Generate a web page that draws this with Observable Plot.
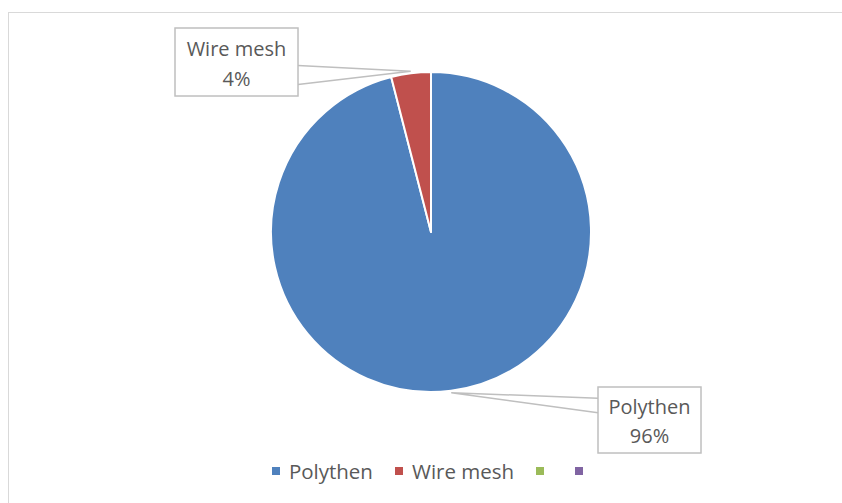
<!DOCTYPE html>
<html>
<head>
<meta charset="utf-8">
<script src="https://cdn.jsdelivr.net/npm/d3@7"></script>
<script src="https://cdn.jsdelivr.net/npm/@observablehq/plot@0.6"></script>
<style>
  html, body { margin: 0; padding: 0; background: #fff; overflow: hidden; }
  #wrap { position: relative; width: 842px; height: 503px; font-family: "Open Sans", sans-serif; }
  #border { position: absolute; left: 8px; top: 12px; width: 850px; height: 520px;
            border-top: 1.5px solid #d9d9d9; border-left: 1.5px solid #d9d9d9; box-sizing: border-box; }
  #chart { position: absolute; left: 0; top: 0; }
  #legend { position: absolute; left: 8px; top: 457px; width: 848px; display: flex; justify-content: center;
            align-items: center; font-size: 20.5px; color: #595959; }
  .item { display: flex; align-items: center; margin: 0 11px; }
  .sw { width: 8px; height: 8px; margin-right: 9px; }
</style>
</head>
<body>
<div id="wrap">
  <div id="border"></div>
  <div id="chart"></div>
  <div id="legend"></div>
</div>
<script>
// ---- data ----
const categories = ["Polythen", "Wire mesh"];
const values = [96, 4];
const labels = ["96%", "4%"];
const legendNames = ["Polythen", "Wire mesh", "", ""];
const colors = ["#4f81bd", "#c0504d", "#9bbb59", "#8064a2"];

// ---- layout (pixels) ----
const W = 842, H = 503;
const cx = 431, cy = 232, R = 160;
// callout boxes: [left, top, right, bottom]
const boxes = {
  "Polythen": [598, 387, 701, 453],
  "Wire mesh": [175, 28, 298, 96]
};

const rows = categories.map((c, i) => ({category: c, value: values[i], label: labels[i], color: colors[i]}));
const arcs = d3.pie().sort(null).value(d => d.value)(rows);

function pieMark(index, scales, vals, dims) {
  const x0 = scales.x(0), y0 = scales.y(0), r = scales.x(1) - scales.x(0);
  const arcGen = d3.arc().innerRadius(0).outerRadius(r);
  const g = d3.create("svg:g").attr("transform", `translate(${x0},${y0})`);
  g.selectAll("path").data(arcs).join("path")
    .attr("d", arcGen)
    .attr("fill", d => d.data.color)
    .attr("stroke", "#fff")
    .attr("stroke-width", 2)
    .attr("stroke-linejoin", "round");
  return g.node();
}

function calloutMark(index, scales) {
  const x0 = scales.x(0), y0 = scales.y(0), r = scales.x(1) - scales.x(0);
  const g = d3.create("svg:g");
  for (const a of arcs) {
    const mid = (a.startAngle + a.endAngle) / 2;
    const tx = x0 + Math.sin(mid) * (r + 2), ty = y0 - Math.cos(mid) * (r + 2);
    const [l, t, rt, b] = boxes[a.data.category];
    const onLeft = tx > rt;
    const bx = onLeft ? rt : l;
    const h = b - t;
    const p1 = onLeft ? [bx, t + h * 0.55] : [bx, t + h * 0.17];
    const p2 = onLeft ? [bx, t + h * 0.83] : [bx, t + h * 0.39];
    g.append("path")
      .attr("d", `M${p1[0]},${p1[1]}L${tx},${ty}L${p2[0]},${p2[1]}`)
      .attr("fill", "#fff").attr("stroke", "#bfbfbf").attr("stroke-width", 1.5);
    g.append("rect").attr("x", l).attr("y", t).attr("width", rt - l).attr("height", h)
      .attr("fill", "#fff").attr("stroke", "#bfbfbf").attr("stroke-width", 1.5);
    const mx = (l + rt) / 2;
    g.append("text").attr("x", mx).attr("y", t + h * 0.41).attr("text-anchor", "middle")
      .attr("font-family", "Open Sans, sans-serif").attr("font-size", 20).attr("fill", "#595959")
      .text(a.data.category);
    g.append("text").attr("x", mx).attr("y", t + h * 0.85).attr("text-anchor", "middle")
      .attr("font-family", "Open Sans, sans-serif").attr("font-size", 20).attr("fill", "#595959")
      .text(a.data.label);
  }
  return g.node();
}

const chart = Plot.plot({
  width: W,
  height: H,
  margin: 0,
  x: {domain: [-cx / R, (W - cx) / R], axis: null},
  y: {domain: [(cy - H) / R, cy / R], axis: null},
  marks: [pieMark, calloutMark]
});
chart.style.background = "transparent";
document.getElementById("chart").appendChild(chart);

const legend = document.getElementById("legend");
legendNames.forEach((n, i) => {
  const it = document.createElement("div");
  it.className = "item";
  const sw = document.createElement("div");
  sw.className = "sw";
  sw.style.background = colors[i];
  it.appendChild(sw);
  const tx = document.createElement("span");
  tx.textContent = n;
  it.appendChild(tx);
  legend.appendChild(it);
});
</script>
</body>
</html>
